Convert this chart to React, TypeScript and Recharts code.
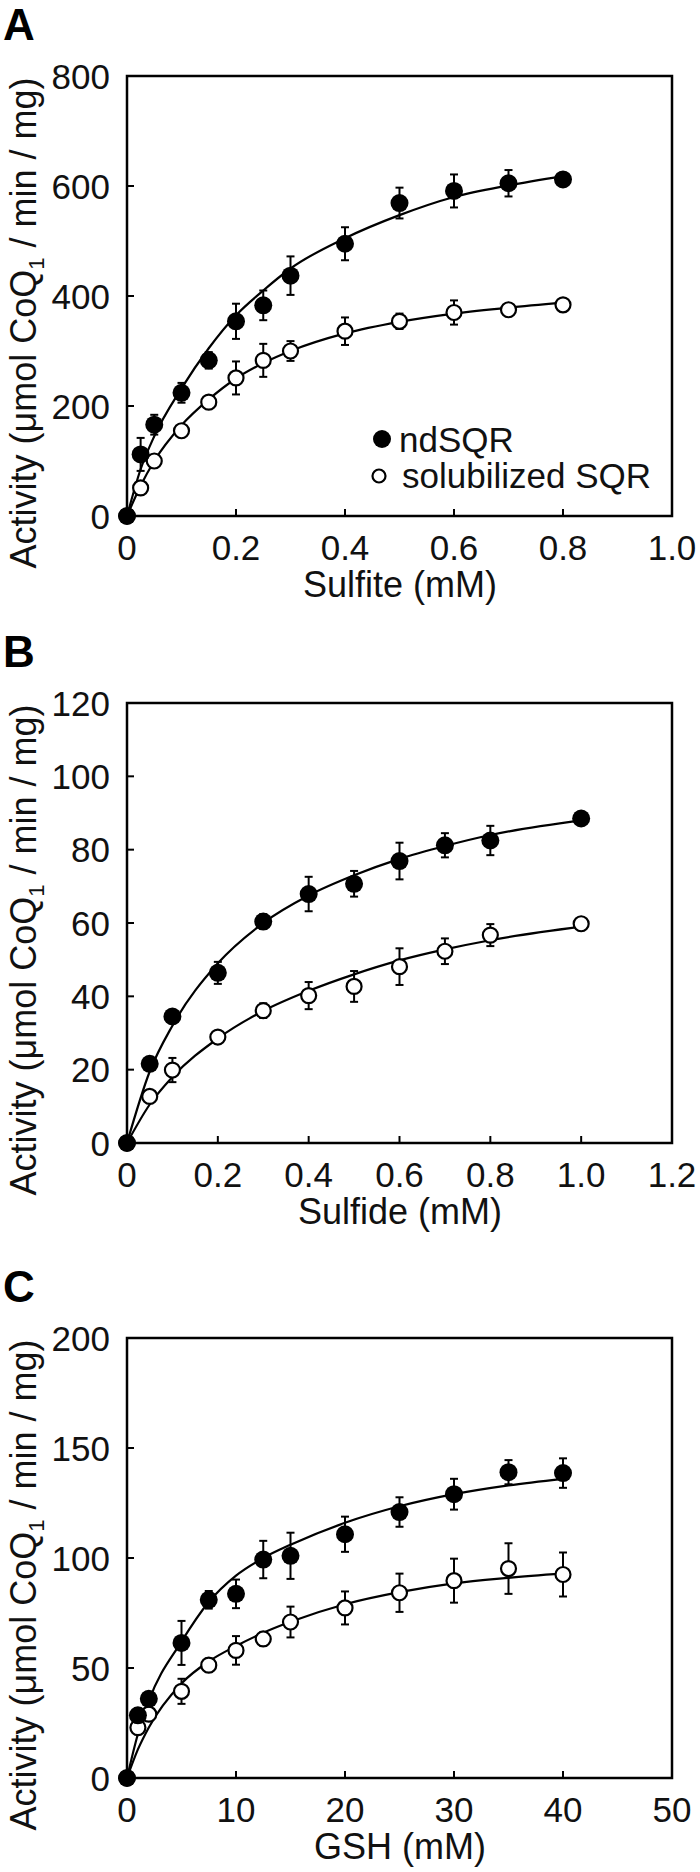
import React from 'react';
import {
  ComposedChart,
  Scatter,
  Line,
  XAxis,
  YAxis,
  ErrorBar,
  ReferenceArea,
  Customized,
} from 'recharts';

const FONT = '"Liberation Sans", Arial, Helvetica, sans-serif';

// ---------- Panel A : Sulfite ----------
const sulfiteX = [0, 0.025, 0.05, 0.1, 0.15, 0.2, 0.25, 0.3, 0.4, 0.5, 0.6, 0.7, 0.8];
const sulfiteNd = [0, 112, 166, 224, 283, 354, 383, 437, 495, 569, 591, 605, 612];
const sulfiteNdErr = [0, 30, 18, 18, 15, 32, 27, 35, 30, 28, 30, 24, 12];
const sulfiteSol = [0, 51, 100, 155, 207, 251, 283, 300, 336, 354, 370, 375, 384];
const sulfiteSolErr = [0, 6, 8, 8, 10, 30, 30, 18, 25, 14, 22, 10, 10];
const sulfiteFitX = [0, 0.025, 0.05, 0.1, 0.15, 0.2, 0.25, 0.3, 0.4, 0.5, 0.6, 0.7, 0.8];
const sulfiteNdFit = [0, 85, 145, 232, 305, 365, 410, 450, 505, 547, 580, 601, 618];
const sulfiteSolFit = [0, 55, 100, 165, 212, 250, 278, 300, 332, 353, 368, 379, 388];
const sulfiteXTicks = [0, 0.2, 0.4, 0.6, 0.8, 1.0];
const sulfiteYTicks = [0, 200, 400, 600, 800];

// ---------- Panel B : Sulfide ----------
const sulfideX = [0, 0.05, 0.1, 0.2, 0.3, 0.4, 0.5, 0.6, 0.7, 0.8, 1.0];
const sulfideNd = [0, 21.6, 34.5, 46.4, 60.4, 67.9, 70.7, 76.9, 81.2, 82.5, 88.5];
const sulfideNdErr = [0, 1, 1.5, 3, 2, 4.7, 3.5, 5, 3.3, 4, 1.5];
const sulfideSol = [0, 12.7, 19.9, 28.9, 36.1, 40.2, 42.7, 48.1, 52.3, 56.7, 59.8];
const sulfideSolErr = [0, 1, 3.3, 1, 2, 3.7, 4.2, 5, 3.5, 3, 1];
const sulfideFitX = [0, 0.05, 0.1, 0.2, 0.3, 0.4, 0.5, 0.6, 0.7, 0.8, 1.0];
const sulfideNdFit = [0, 19.5, 32, 49, 60, 67.5, 73, 77.5, 81, 84, 88];
const sulfideSolFit = [0, 10.5, 18, 28.5, 36, 41.5, 46, 49.8, 52.8, 55.3, 59];
const sulfideXTicks = [0, 0.2, 0.4, 0.6, 0.8, 1.0, 1.2];
const sulfideYTicks = [0, 20, 40, 60, 80, 100, 120];

// ---------- Panel C : GSH ----------
const gshX = [0, 1, 2, 5, 7.5, 10, 12.5, 15, 20, 25, 30, 35, 40];
const gshNd = [0, 28.5, 36, 61.4, 81, 83.7, 99.3, 101, 110.8, 120.9, 129, 139, 138.6];
const gshNdErr = [0, 3, 3, 10, 4, 6.5, 8.5, 10.5, 8, 6.7, 7, 5.5, 6.7];
const gshSol = [0, 22.9, 29, 39.4, 51.3, 58, 63.2, 70.9, 77.3, 84.2, 89.7, 95.2, 92.5];
const gshSolErr = [0, 2, 2, 5.7, 3, 6.5, 3, 7, 7.5, 8.7, 10, 11.5, 10];
const gshFitX = [0, 1, 2, 5, 7.5, 10, 12.5, 15, 20, 25, 30, 35, 40];
const gshNdFit = [0, 20, 35, 62, 80, 92, 100, 106, 116, 123.5, 129, 133, 136];
const gshSolFit = [0, 13, 23, 43, 53, 60, 66, 71, 79, 84.5, 88.5, 91, 93];
const gshXTicks = [0, 10, 20, 30, 40, 50];
const gshYTicks = [0, 50, 100, 150, 200];

const seriesNames = ['ndSQR', 'solubilized SQR'];
const yAxisTitle = ['Activity (μmol CoQ', '1', ' / min / mg)'];

const rows = (xs: number[], ys: number[], errs?: number[]) =>
  xs.map((x, i) => ({ x, y: ys[i], err: errs ? errs[i] : 0 }));

const X_MARGIN = 44;
const Y_MARGIN = 17;
const TICK_LEN = 7;

const fmtDec = (v: number) => (v === 0 ? '0' : v.toFixed(1));
const fmtInt = (v: number) => String(Math.round(v));

const makeXTick = (fmt: (v: number) => string) => (props: any) => {
  const { x, y, payload } = props;
  return (
    <g>
      <line x1={x} x2={x} y1={y - X_MARGIN} y2={y - X_MARGIN - TICK_LEN} stroke="#000" strokeWidth={2} />
      <text x={x} y={y} textAnchor="middle" fontSize={35} fontFamily={FONT} fill="#111">
        {fmt(payload.value)}
      </text>
    </g>
  );
};

const YTick = (props: any) => {
  const { x, y, payload } = props;
  return (
    <g>
      <line x1={x + Y_MARGIN} x2={x + Y_MARGIN + TICK_LEN} y1={y} y2={y} stroke="#000" strokeWidth={2} />
      <text x={x} y={y + 12.5} textAnchor="end" fontSize={35} fontFamily={FONT} fill="#111">
        {fmtInt(payload.value)}
      </text>
    </g>
  );
};

const FilledDot = (props: any) => <circle cx={props.cx} cy={props.cy} r={9} fill="#000" />;
const OpenDot = (props: any) => (
  <circle cx={props.cx} cy={props.cy} r={7.5} fill="#fff" stroke="#000" strokeWidth={2.2} />
);

type PanelProps = {
  top: number;
  letter: string;
  letterY: number;
  xLabel: string;
  xDomain: [number, number];
  yDomain: [number, number];
  xTicks: number[];
  yTicks: number[];
  xFmt: (v: number) => string;
  nd: any[];
  sol: any[];
  ndFit: any[];
  solFit: any[];
  legend?: boolean;
};

const W = 700;
const H = 610;
const PLOT_TOP = 76;

const Panel = (p: PanelProps) => {
  const Overlay = () => (
    <g fontFamily={FONT}>
      <text x={3} y={p.letterY} fontSize={44} fontWeight="bold" fill="#000">
        {p.letter}
      </text>
      <text
        transform="translate(36,323) rotate(-90)"
        x={0}
        y={0}
        textAnchor="middle"
        fontSize={36}
        fill="#111"
      >
        <tspan>{yAxisTitle[0]}</tspan>
        <tspan dy={8} fontSize={22}>
          {yAxisTitle[1]}
        </tspan>
        <tspan dy={-8}>{yAxisTitle[2]}</tspan>
      </text>
      <text x={400} y={597} textAnchor="middle" fontSize={36} fill="#111">
        {p.xLabel}
      </text>
      {p.legend && (
        <g>
          <circle cx={382} cy={439} r={9} fill="#000" />
          <text x={399} y={452} fontSize={35} fill="#111">
            {seriesNames[0]}
          </text>
          <circle cx={379} cy={476} r={6.5} fill="#fff" stroke="#000" strokeWidth={2.2} />
          <text x={402} y={488} fontSize={35} fill="#111">
            {seriesNames[1]}
          </text>
        </g>
      )}
    </g>
  );

  return (
    <div style={{ position: 'absolute', left: 0, top: p.top, width: W, height: H }}>
      <ComposedChart
        width={W}
        height={H}
        margin={{ top: PLOT_TOP, right: 28, left: 0, bottom: 4 }}
      >
        <XAxis
          type="number"
          dataKey="x"
          domain={p.xDomain}
          ticks={p.xTicks}
          axisLine={false}
          tickLine={false}
          tickSize={0}
          tickMargin={X_MARGIN}
          height={90}
          interval={0}
          tick={makeXTick(p.xFmt)}
        />
        <YAxis
          type="number"
          dataKey="y"
          domain={p.yDomain}
          ticks={p.yTicks}
          axisLine={false}
          tickLine={false}
          tickSize={0}
          tickMargin={Y_MARGIN}
          width={127}
          interval={0}
          tick={YTick}
        />
        <ReferenceArea
          x1={p.xDomain[0]}
          x2={p.xDomain[1]}
          y1={p.yDomain[0]}
          y2={p.yDomain[1]}
          fill="none"
          fillOpacity={0}
          stroke="#000"
          strokeWidth={2.5}
        />
        <Line
          data={p.solFit}
          dataKey="y"
          type="monotone"
          stroke="#000"
          strokeWidth={2.2}
          dot={false}
          activeDot={false}
          isAnimationActive={false}
        />
        <Line
          data={p.ndFit}
          dataKey="y"
          type="monotone"
          stroke="#000"
          strokeWidth={2.2}
          dot={false}
          activeDot={false}
          isAnimationActive={false}
        />
        <Scatter data={p.sol} dataKey="y" shape={OpenDot} isAnimationActive={false}>
          <ErrorBar dataKey="err" direction="y" width={4} stroke="#000" strokeWidth={2} isAnimationActive={false} />
        </Scatter>
        <Scatter data={p.nd} dataKey="y" shape={FilledDot} isAnimationActive={false}>
          <ErrorBar dataKey="err" direction="y" width={4} stroke="#000" strokeWidth={2} isAnimationActive={false} />
        </Scatter>
        <Customized component={Overlay} />
      </ComposedChart>
    </div>
  );
}

export default function App() {
  return (
    <div
      style={{
        position: 'absolute',
        left: 0,
        top: 0,
        width: 700,
        height: 1872,
        background: '#fff',
        overflow: 'hidden',
      }}
    >
      <Panel
        top={0}
        letter="A"
        letterY={40}
        xLabel="Sulfite (mM)"
        xDomain={[0, 1]}
        yDomain={[0, 800]}
        xTicks={sulfiteXTicks}
        yTicks={sulfiteYTicks}
        xFmt={fmtDec}
        nd={rows(sulfiteX, sulfiteNd, sulfiteNdErr)}
        sol={rows(sulfiteX, sulfiteSol, sulfiteSolErr)}
        ndFit={rows(sulfiteFitX, sulfiteNdFit)}
        solFit={rows(sulfiteFitX, sulfiteSolFit)}
        legend
      />
      <Panel
        top={627}
        letter="B"
        letterY={40}
        xLabel="Sulfide (mM)"
        xDomain={[0, 1.2]}
        yDomain={[0, 120]}
        xTicks={sulfideXTicks}
        yTicks={sulfideYTicks}
        xFmt={fmtDec}
        nd={rows(sulfideX, sulfideNd, sulfideNdErr)}
        sol={rows(sulfideX, sulfideSol, sulfideSolErr)}
        ndFit={rows(sulfideFitX, sulfideNdFit)}
        solFit={rows(sulfideFitX, sulfideSolFit)}
      />
      <Panel
        top={1262}
        letter="C"
        letterY={40}
        xLabel="GSH (mM)"
        xDomain={[0, 50]}
        yDomain={[0, 200]}
        xTicks={gshXTicks}
        yTicks={gshYTicks}
        xFmt={fmtInt}
        nd={rows(gshX, gshNd, gshNdErr)}
        sol={rows(gshX, gshSol, gshSolErr)}
        ndFit={rows(gshFitX, gshNdFit)}
        solFit={rows(gshFitX, gshSolFit)}
      />
    </div>
  );
}
